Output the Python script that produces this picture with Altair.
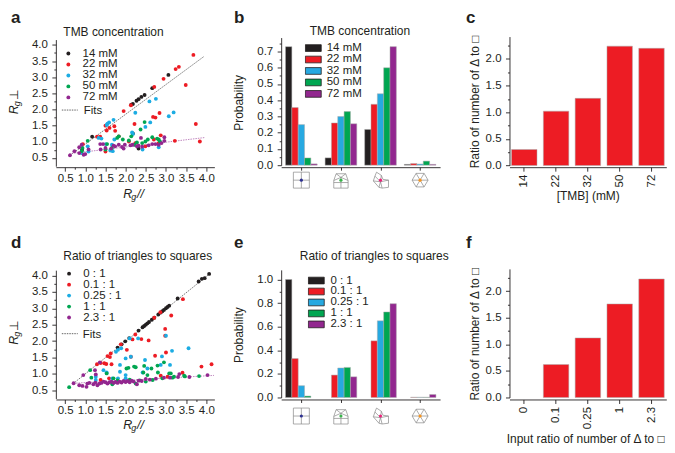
import altair as alt
import pandas as pd

FONT = "Liberation Sans"
SERIES_A = ["14 mM", "22 mM", "32 mM", "50 mM", "72 mM"]
SERIES_D = ["0 : 1", "0.1 : 1", "0.25 : 1", "1 : 1", "2.3 : 1"]
COLORS = ["#231f20", "#ed1c24", "#1cace3", "#00a651", "#92278f"]
BAR_COLORS = ["#231f20", "#ed1c24", "#27a9e1", "#00a651", "#92278f"]
CATS = ["square", "mixed", "triangles", "hexagon"]
ICON_DOTS = ["#2e3192", "#39b54a", "#ec2079", "#f7941d"]
ICON_PATHS = [
    "M-1,-1H1V1H-1Z M0,-1V1 M-1,0H1",
    "M-.9,1H.9V.05L.6,-.8H-.6L-.9,.05Z M-.9,.05L0,-.35L.9,.05 M-.6,-.8L0,-.35L.6,-.8 M0,-.35V1 M-.9,.3H.9",
    "M-.5,-1L.1,-.6L.3,-.1L1,0V.9L.2,1L0,.2L-.9,.1L-.7,-.5Z M-.7,-.5L0,.2L.1,-.6 M0,.2L1,0 M0,.2L-.2,.9L.2,1 M-.9,.1L-.2,.9",
    "M-.5,-.85H.5L1,0L.5,.85H-.5L-1,0Z M-.5,-.85L.5,.85 M.5,-.85L-.5,.85 M-1,0H1",
]

A_14 = [(1.17,1.16),(2.14,2.15),(2.18,2.17),(2.27,2.27),(2.32,2.32),(2.39,2.39),(2.47,2.45),(2.66,2.66),(3.06,3.07),(2.18,1.26),(2.32,0.79),(0.92,0.75)]
A_22 = [(3.68,3.69),(3.32,3.32),(3.24,3.25),(2.94,2.95),(2.71,2.70),(3.49,2.76),(2.13,2.13),(1.95,1.95),(1.5,1.5),(1.6,1.43),(1.53,1.35),(1.72,1.48),(1.74,1.34),(1.29,1.16),(1.37,1.16),(2.22,1.55),(2.68,1.77),(2.74,1.75),(2.84,1.89),(3.74,1.55),(3.84,1.01),(3.22,1.03),(2.87,1.2),(1.5,0.7),(2.7,1.07),(1.83,1.17),(0.94,0.93),(2.24,0.96),(2.49,0.86),(2.82,0.96),(2.08,1.01)]
A_32 = [(1.70,1.68),(1.59,1.6),(1.55,1.56),(1.53,1.52),(2.24,1.9),(2.59,2.25),(2.75,2.33),(3.19,1.91),(3.07,1.79),(2.61,1.6),(2.49,1.46),(2.16,1.29),(2.18,1.24),(1.72,1.07),(1.33,1.12),(1.4,1.1),(1.06,0.86),(1.08,0.7),(1.66,0.91),(1.62,0.73),(1.68,0.71),(2.42,0.76),(2.82,0.83),(0.91,0.65),(1.51,0.93)]
A_50 = [(2.47,1.61),(2.37,1.38),(1.83,1.17),(1.79,1.12),(2.14,1.17),(1.06,1.03),(0.93,0.81),(1.54,0.93),(1.5,0.76),(2.66,1.14),(2.78,1.1),(2.82,1.07),(2.55,1.07),(2.49,1.01),(2.41,0.96),(2.08,1.04),(1.93,1.07),(2.28,0.98),(2.85,1.01),(1.66,0.81),(0.91,0.71),(2.22,0.91)]
A_72 = [(0.62,0.58),(0.73,0.71),(0.85,0.83),(0.85,0.65),(0.91,0.91),(0.96,0.6),(1.0,0.62),(1.08,0.76),(1.38,0.76),(1.44,0.93),(1.5,0.81),(1.64,0.79),(1.7,0.88),(1.95,0.79),(1.98,0.91),(2.12,0.89),(2.17,0.91),(2.28,0.86),(2.38,1.12),(2.32,0.88),(2.41,0.85),(2.57,0.89),(2.66,0.93),(2.74,0.93),(2.89,0.96),(2.96,1.14),(2.96,1.03),(2.82,0.91),(1.74,0.86),(1.83,0.91),(1.91,0.84),(1.37,0.93)]
A_FITS = {"diag": [(0.62,0.58),(3.94,3.64)], "flat": [(0.6,0.63),(3.95,1.13)]}

D_0 = [(4.07,4.05),(3.96,3.92),(3.89,3.9),(3.81,3.82),(3.29,3.3),(3.08,3.08),(3.04,3.04),(3.0,3.0),(2.95,2.95),(2.91,2.91),(2.87,2.87),(2.81,2.81),(2.71,2.71),(2.65,2.65),(2.58,2.58),(2.54,2.54),(2.5,2.5),(2.46,2.46),(2.42,2.42),(2.32,2.32),(2.09,2.09),(1.99,1.99),(1.9,1.9),(1.8,1.8)]
D_01 = [(3.42,3.28),(3.13,2.78),(2.98,2.37),(2.98,2.16),(3.0,1.65),(2.73,1.55),(2.57,2.02),(2.39,2.06),(2.17,2.05),(2.03,1.73),(2.24,2.2),(2.71,2.71),(2.86,2.88),(1.88,1.9),(1.63,1.62),(1.55,1.54),(1.61,1.51),(1.65,1.29),(1.29,1.29),(1.38,1.33),(1.47,1.32),(1.52,1.3),(3.88,1.22),(4.13,1.29),(2.13,1.52),(1.59,0.86),(1.38,0.81),(3.04,0.91),(3.41,1.03),(2.87,0.94)]
D_025 = [(3.56,1.78),(3.15,1.7),(3.0,2.16),(2.31,2.08),(2.1,2.08),(1.89,1.78),(1.81,1.73),(1.76,1.67),(2.0,1.47),(2.13,1.52),(2.48,1.42),(2.9,1.53),(2.87,1.27),(3.1,1.27),(2.54,1.16),(2.42,1.04),(1.45,1.11),(1.53,1.04),(1.86,1.27),(1.86,1.06),(1.26,0.91),(1.81,0.86),(2.0,0.96),(1.67,0.86),(1.26,0.81),(2.0,0.86)]
D_1 = [(0.6,0.59),(1.12,1.11),(1.15,0.88),(1.53,1.01),(1.7,0.86),(2.02,1.16),(2.07,1.18),(2.21,1.22),(2.25,1.2),(2.46,1.24),(2.64,1.16),(2.44,1.04),(2.54,0.96),(2.8,1.04),(2.95,1.35),(2.79,1.25),(3.12,1.01),(3.08,1.01),(3.2,0.91),(3.45,0.94),(3.82,0.93),(3.47,0.92),(1.67,0.68),(2.25,0.7),(2.5,0.76),(2.67,0.81),(2.91,0.86),(3.16,0.88),(1.8,0.8),(2.1,0.82),(2.35,0.8)]
D_23 = [(0.71,0.71),(0.85,0.65),(0.95,0.96),(1.03,0.6),(0.93,0.63),(1.05,0.7),(1.24,1.11),(1.26,0.98),(1.36,1.35),(1.3,0.65),(1.1,0.72),(1.2,0.68),(1.25,0.73),(1.35,0.7),(1.4,0.72),(1.45,0.76),(1.5,0.74),(1.55,0.7),(1.6,0.74),(1.65,0.76),(1.7,0.72),(1.75,0.75),(1.8,0.72),(1.85,0.76),(1.9,0.73),(1.95,0.78),(2.0,0.75),(2.05,0.78),(2.1,0.74),(2.15,0.79),(2.2,0.76),(2.28,0.68),(2.32,0.79),(2.4,0.78),(2.5,0.84),(2.6,0.82),(2.75,0.85),(2.95,0.88),(3.1,0.88),(3.33,0.99),(3.58,0.9),(3.3,0.9),(4.03,0.96)]
D_FITS = {"diag": [(0.7,0.7),(4.07,4.04)], "flat": [(0.71,0.71),(4.19,0.95)]}

B_VALUES = [[.73,.355,.25,.045,.008],[.045,.26,.30,.33,.255],[.22,.375,.44,.60,.73],[.005,.01,.007,.025,.005]]
E_VALUES = [[1.0,.33,.1,.012,0],[0,.19,.25,.255,.175],[0,.48,.65,.725,.795],[0,.002,.002,.002,.025]]
C_CATS = ["14","22","32","50","72"]
C_VALUES = [.3,1.02,1.26,2.24,2.2]
F_CATS = ["0","0.1","0.25","1","2.3"]
F_VALUES = [0,.62,1.12,1.76,2.23]
TRI = "Ratio of number of \u0394 to \u25a1"
RANGE_VALS = [v / 4 for v in range(2, 17)]


def note(text, x, y, size=12, angle=0, style="normal", weight="normal", align="left", baseline="alphabetic"):
    return alt.Chart(pd.DataFrame({"t": [text]})).mark_text(
        text=text, font=FONT, fontSize=size, fontStyle=style, fontWeight=weight,
        align=align, baseline=baseline, angle=angle, color="#231f20",
    ).encode(x=alt.value(x), y=alt.value(y))


def letter_note(letter, x, top_row):
    if top_row:
        return note(letter, x, -27, size=17, weight="bold", baseline="top")
    return note(letter, x, -20.7, size=17, weight="bold")


def axis_ticks(values, step, **kw):
    off = f"abs(datum.value/{step}-round(datum.value/{step}))>0.01"
    return alt.Axis(
        values=values, labelExpr=f"{off} ? '' : format(datum.value,'.1f')",
        tickSize={"condition": {"test": off, "value": 2}, "value": 4},
        labelOverlap=False, grid=False, **kw,
    )


def scatter(series, groups, fits, fit_colors, yr, legend_y, legend_x, label_off, row_pad, fits_y, w, h, title, letter, ry_start, rx_base, fits_label_x, extra=None):
    rows = [{"s": s, "x": p[0], "y": p[1]} for s, g in zip(series, groups) for p in g]
    xs = alt.Scale(domain=[0.27, 4.2], range=[0, 159], nice=False, zero=False)
    ys = alt.Scale(domain=[0.245, 4.165], range=yr, nice=False, zero=False)
    xa = axis_ticks(RANGE_VALS, 0.5, title=None, labelPadding=1.5)
    ya = axis_ticks(RANGE_VALS, 0.5, title=None)
    pts = alt.Chart(pd.DataFrame(rows)).mark_circle(size=15, opacity=1).encode(
        x=alt.X("x:Q", scale=xs, axis=xa),
        y=alt.Y("y:Q", scale=ys, axis=ya),
        color=alt.Color("s:N", sort=series, scale=alt.Scale(domain=series, range=COLORS),
            legend=alt.Legend(orient="none", legendX=legend_x, legendY=legend_y, title=None,
                labelFontSize=11.5, labelOffset=label_off, padding=0, rowPadding=row_pad,
                clipHeight=10, symbolSize=15, symbolType="circle", labelColor="#231f20")),
    )
    fit_layers = []
    for (k, col) in zip(["diag", "flat"], fit_colors):
        d = pd.DataFrame(fits[k], columns=["x", "y"])
        fit_layers.append(alt.Chart(d).mark_line(strokeDash=[1.5, 1], strokeWidth=0.8, color=col).encode(
            x=alt.X("x:Q", scale=xs, axis=xa), y=alt.Y("y:Q", scale=ys, axis=ya)))
    sample = alt.Chart(pd.DataFrame({"t": ["Fits"]})).mark_rule(strokeDash=[1.5, 1], strokeWidth=0.9, color="#555").encode(
        x=alt.value(6), x2=alt.value(22), y=alt.value(fits_y))
    texts = [
        note("Fits", fits_label_x, fits_y + 4, size=11.5),
        note(title, 7.5, -1 if letter == "a" else -8.4),
        letter_note(letter, -45, letter == "a"),
        note("R", 67.7, rx_base, size=12.5, style="italic"),
        note("g", 75.7, rx_base + 2.5, size=9, style="italic"),
        note("//", 81.5, rx_base, size=12.5, style="italic"),
        note("R", -38, ry_start, size=12.5, style="italic", angle=270),
        note("g", -35.5, ry_start - 8, size=9, style="italic", angle=270),
        note("\u22a5", -38, ry_start - 14, size=12, angle=270),
    ]
    layers = list(fit_layers) + [pts, sample] + texts + ([extra] if extra is not None else [])
    return alt.layer(*layers).resolve_scale(color="independent").properties(width=w, height=h)


def grouped(series, values, dom, ticks, step, yr, lx, ly, lo, row_pad, w, h, title, tx, ty, letter, lpos, icon_y, title_y):
    rows = []
    for i, vs in enumerate(values):
        for j, (s, v) in enumerate(zip(series, vs)):
            if v > 0:
                rows.append({"s": s, "v": v, "v0": 0, "x0": i + j * 0.16, "x1": i + (j + 1) * 0.16})
    centers = [i + 0.4 for i in range(len(CATS))]
    xs = alt.Scale(domain=[-0.11, 3.905], range=[0, 159.4], nice=False, zero=False)
    bars = alt.Chart(pd.DataFrame(rows)).mark_bar(stroke="#aaa", strokeWidth=0.5).encode(
        x=alt.X("x0:Q", scale=xs, axis=alt.Axis(values=centers, labels=False, title=None, tickSize=3, grid=False)),
        x2="x1:Q",
        y=alt.Y("v:Q", stack=None, scale=alt.Scale(domain=[0, dom], range=yr, nice=False),
            axis=axis_ticks(ticks, step, title="Probability", titleX=-36, titleY=title_y, titleFontWeight="normal", titleFontSize=12)),
        y2="v0:Q",
        color=alt.Color("s:N", sort=series, scale=alt.Scale(domain=series, range=BAR_COLORS),
            legend=alt.Legend(orient="none", legendX=lx, legendY=ly, title=None, labelFontSize=11.5,
                labelOffset=lo, padding=0, rowPadding=row_pad, clipHeight=10, symbolSize=256,
                symbolType="M-1,-0.42H1V0.42H-1Z", symbolStrokeColor="#231f20", symbolStrokeWidth=0.8,
                symbolOpacity=1, labelColor="#231f20")),
    )
    icons_df = pd.DataFrame({"c": CATS, "x": centers})
    lines = alt.Chart(icons_df).mark_point(size=256, filled=False, stroke="#888", strokeWidth=0.7, opacity=1).encode(
        x=alt.X("x:Q", scale=xs), y=alt.value(icon_y),
        shape=alt.Shape("c:N", sort=CATS, scale=alt.Scale(domain=CATS, range=ICON_PATHS), legend=None))
    dots = alt.Chart(icons_df).mark_point(size=10, filled=True, opacity=1, shape="circle").encode(
        x=alt.X("x:Q", scale=xs), y=alt.value(icon_y),
        fill=alt.Fill("c:N", sort=CATS, scale=alt.Scale(domain=CATS, range=ICON_DOTS), legend=None))
    return alt.layer(bars, lines, dots, note(title, tx, ty), letter_note(letter, lpos, letter == "b")).resolve_scale(
        color="independent", fill="independent", shape="independent").properties(width=w, height=h)


def ratio(cats, vals, yr, h, letter, xtitle, title_y, title_cy, title_cx):
    d = pd.DataFrame({"c": cats, "v": vals})
    d = d[d.v > 0]
    return alt.layer(
        alt.Chart(d).mark_bar(color="#ed1c24", stroke="#aaa", strokeWidth=0.5).encode(
            x=alt.X("c:N", sort=cats, scale=alt.Scale(domain=cats, range=[0, 157.3], paddingInner=0.2, paddingOuter=0.065),
                axis=alt.Axis(title=xtitle, labelAngle=270, labelAlign="right", labelBaseline="middle", tickSize=4,
                    labelPadding=3, titleX=title_cx, titleY=title_y, titleFontWeight="normal", titleFontSize=12, grid=False)),
            y=alt.Y("v:Q", scale=alt.Scale(domain=[0, 2.42], range=yr, nice=False),
                axis=axis_ticks([i / 4 for i in range(0, 10)], 0.5, title=TRI, titleX=-28, titleY=title_cy,
                    titleFontWeight="normal", titleFontSize=12)),
        ),
        letter_note(letter, -43.6, letter == "c"),
    ).properties(width=158, height=h)


anchor = alt.Chart(pd.DataFrame({"t": ["anchor"]})).mark_rule(opacity=0).encode(
    x=alt.value(-45), x2=alt.value(-44), y=alt.value(-27))

a = scatter(SERIES_A, [A_14, A_22, A_32, A_50, A_72], A_FITS, ["#555", "#b06ab0"], [130, 3], 12, 6.8, 8.5, -1.5, 73.7, 160, 131, "TMB concentration", "a", 78, 161.7, 28, extra=anchor)
d = scatter(SERIES_D, [D_0, D_01, D_025, D_1, D_23], D_FITS, ["#555", "#b06ab0"], [130, 1.3], -0.2, 7.5, 8.5, -1.3, 65, 160, 131, "Ratio of triangles to squares", "d", 76, 160.3, 27)
b = grouped(SERIES_A, B_VALUES, 0.786, [i / 20 for i in range(0, 16)], 0.1, [129, 1], 23.7, 6.5, 5, -0.5, 163, 131, "TMB concentration", 28.7, -2, "b", -47.3, 144, 66)
e = grouped(SERIES_D, E_VALUES, 1.082, [i / 10 for i in range(0, 11)], 0.2, [129, 1], 26.7, 6.7, 5.7, -1.3, 163, 131, "Ratio of triangles to squares", 18.7, -8.4, "e", -47.3, 147.6, 66)
c = ratio(C_CATS, C_VALUES, [129.3, 0], 131, "c", "[TMB] (mM)", 23, 65, 78.5)
f = ratio(F_CATS, F_VALUES, [129, 0], 131, "f", "Input ratio of number of \u0394 to \u25a1", 34.3, 65, 76)

chart = alt.concat(a, b, c, d, e, f, columns=3, spacing={"row": 102, "column": 66}, bounds="flush", center=False).properties(padding=0).configure(
    font=FONT,
    view=alt.ViewConfig(stroke=None),
    axis=alt.AxisConfig(domainColor="#231f20", tickColor="#231f20", domainWidth=0.9, tickWidth=0.9,
        labelFont=FONT, titleFont=FONT, labelFontSize=11.5, labelColor="#231f20", titleColor="#231f20", labelPadding=4.5),
    legend=alt.LegendConfig(labelFont=FONT),
)
chart.save("out.html", embed_options={"renderer": "svg", "actions": False})
